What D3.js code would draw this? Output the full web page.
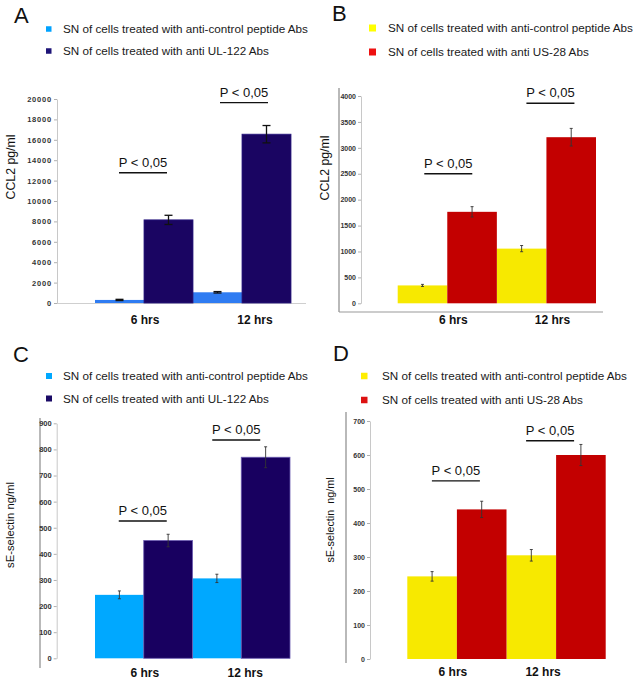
<!DOCTYPE html>
<html><head><meta charset="utf-8">
<script src="https://cdn.jsdelivr.net/npm/d3@7"></script>
<style>body{margin:0;background:#fff}svg{display:block}</style>
</head><body>
<svg id="c" width="638" height="686"></svg>
<script>
// ---------- DATA ----------
const groups = ["6 hrs", "12 hrs"];
const legendUL = ["SN of cells treated with anti-control peptide Abs", "SN of cells treated with anti UL-122 Abs"];
const legendUS = ["SN of cells treated with anti-control peptide Abs", "SN of cells treated with anti US-28 Abs"];
const pLabel = "P < 0,05";

// Panel A: CCL2 pg/ml (control vs anti UL-122)
const aControl = [300, 1050], aControlErr = [60, 70];
const aTreated = [8150, 16550], aTreatedErr = [450, 850];
const aTicks = [0, 2000, 4000, 6000, 8000, 10000, 12000, 14000, 16000, 18000, 20000];
const aPBars = [12770, 19640];

// Panel B: CCL2 pg/ml (control vs anti US-28)
const bControl = [345, 1055], bControlErr = [20, 60];
const bTreated = [1765, 3205], bTreatedErr = [100, 170];
const bTicks = [0, 500, 1000, 1500, 2000, 2500, 3000, 3500, 4000];
const bPBars = [2500, 3860];

// Panel C: sE-selectin ng/ml (control vs anti UL-122)
const cControl = [243, 306], cControlErr = [15, 16];
const cTreated = [451, 770], cTreatedErr = [24, 40];
const cTicks = [0, 100, 200, 300, 400, 500, 600, 700, 800, 900];
const cPBars = [526, 836];

// Panel D: sE-selectin ng/ml (control vs anti US-28)
const dControl = [243, 305], dControlErr = [14, 17];
const dTreated = [440, 600], dTreatedErr = [24, 31];
const dTicks = [0, 100, 200, 300, 400, 500, 600, 700];
const dPBars = [524, 642];

// ---------- DRAW ----------
const svg = d3.select("#c");
const FONT = "Arial, 'Liberation Sans', sans-serif";

function panel(cfg) {
  const g = svg.append("g");
  const y = d3.scaleLinear().domain([0, cfg.ymax]).range([cfg.y0, cfg.y1]);
  const x = d3.scaleBand().domain(groups).range(cfg.xr).padding(0);
  const xs = d3.scaleBand().domain([0, 1]).range([0, x.bandwidth()]).padding(0);

  g.append("text").attr("x", cfg.letterX).attr("y", cfg.letterY)
    .attr("font-family", FONT).attr("font-size", 22).attr("fill", "#111").text(cfg.letter);

  cfg.legend.forEach((t, i) => {
    g.append("rect").attr("x", cfg.legX).attr("y", cfg.legY[i] - cfg.legSq / 2)
      .attr("width", cfg.legSq).attr("height", cfg.legSq).attr("fill", cfg.legColors[i]);
    g.append("text").attr("x", cfg.legTX).attr("y", cfg.legY[i] + 4)
      .attr("font-family", FONT).attr("font-size", 11.7).attr("fill", "#1a1a1a").text(t);
  });

  if (cfg.frameX !== undefined) {
    g.append("line").attr("x1", cfg.frameX).attr("x2", cfg.frameX)
      .attr("y1", cfg.frameTop).attr("y2", cfg.frameBottom)
      .attr("stroke", "#8a8a8a").attr("stroke-width", 1.2);
  }
  if (cfg.baseY !== undefined) {
    g.append("line").attr("x1", cfg.baseX1).attr("x2", cfg.baseX2)
      .attr("y1", cfg.baseY).attr("y2", cfg.baseY)
      .attr("stroke", cfg.baseColor).attr("stroke-width", 1.2);
  }

  const ax = g.append("g").attr("transform", `translate(${cfg.axisX},0)`)
    .call(d3.axisLeft(y).tickValues(cfg.ticks).tickSize(3).tickSizeOuter(0).tickPadding(2).tickFormat(d3.format("d")));
  ax.select(".domain").attr("stroke", "#c8c8c8").attr("stroke-width", 1);
  ax.selectAll(".tick line").attr("stroke", "#b0b0b0");
  ax.selectAll(".tick text").attr("font-family", cfg.tickFont).attr("font-weight", "bold")
    .attr("font-size", cfg.tickSize).attr("letter-spacing", cfg.tickLS || 0).attr("fill", "#333");

  g.append("text").attr("transform", `translate(${cfg.ylabX},${cfg.ylabY}) rotate(-90)`)
    .attr("text-anchor", "middle").attr("font-family", FONT).attr("font-size", cfg.ylabSize)
    .attr("fill", "#111").attr("xml:space", "preserve").text(cfg.ylab);

  const series = [
    { v: cfg.control, e: cfg.controlErr, c: cfg.colors[0] },
    { v: cfg.treated, e: cfg.treatedErr, c: cfg.colors[1] }
  ];
  series.forEach((s, si) => {
    groups.forEach((gr, gi) => {
      const bx = x(gr) + xs(si);
      g.append("rect").attr("x", bx).attr("y", y(s.v[gi]))
        .attr("width", xs.bandwidth()).attr("height", y(0) - y(s.v[gi]))
        .attr("fill", s.c).attr("stroke", cfg.barStroke ? cfg.barStroke[si] : "none").attr("stroke-width", 0.8);
    });
  });
  series.forEach((s, si) => {
    groups.forEach((gr, gi) => {
      const cx = x(gr) + xs(si) + xs.bandwidth() / 2;
      const hi = y(s.v[gi] + s.e[gi]), lo = y(s.v[gi] - s.e[gi]);
      g.append("line").attr("x1", cx).attr("x2", cx).attr("y1", hi).attr("y2", lo)
        .attr("stroke", cfg.errColor).attr("stroke-width", cfg.errW);
      [hi, lo].forEach(yy => g.append("line").attr("x1", cx - cfg.cap).attr("x2", cx + cfg.cap)
        .attr("y1", yy).attr("y2", yy).attr("stroke", cfg.errColor).attr("stroke-width", cfg.errW));
    });
  });

  groups.forEach((gr, gi) => {
    const cx = x(gr) + x.bandwidth() / 2 + cfg.pOff[gi];
    const yy = y(cfg.pbars[gi]);
    g.append("line").attr("x1", cx - 24).attr("x2", cx + 24).attr("y1", yy).attr("y2", yy)
      .attr("stroke", "#111").attr("stroke-width", 1.4);
    g.append("text").attr("x", cx).attr("y", yy - 6).attr("text-anchor", "middle")
      .attr("font-family", FONT).attr("font-size", 13).attr("fill", "#111").text(pLabel);
  });

  groups.forEach((gr, gi) => {
    g.append("text").attr("x", x(gr) + x.bandwidth() / 2 + cfg.xlabOff[gi]).attr("y", cfg.xlabY)
      .attr("text-anchor", "middle").attr("font-family", FONT).attr("font-weight", "bold")
      .attr("font-size", 12).attr("fill", "#111").text(gr);
  });
}

const NARROW = "'Liberation Sans Narrow', 'Arial Narrow', Arial, sans-serif";

panel({
  letter: "A", letterX: 14, letterY: 23,
  legend: legendUL, legColors: ["#00a2ff", "#1e1478"], legX: 46, legY: [29, 51], legSq: 5.5, legTX: 63,
  ymax: 20000, y0: 303, y1: 99, xr: [95, 291], axisX: 57, ticks: aTicks,
  tickFont: FONT, tickSize: 7.5, tickLS: 0.8,
  baseY: 303.5, baseX1: 57, baseX2: 306, baseColor: "#cfcfcf",
  ylab: "CCL2 pg/ml", ylabX: 15, ylabY: 167, ylabSize: 12.3,
  control: aControl, controlErr: aControlErr, treated: aTreated, treatedErr: aTreatedErr,
  colors: ["#2f7cf2", "#1a0562"], barStroke: ["none", "#2a1a80"],
  errColor: "#111", errW: 1.3, cap: 4,
  pbars: aPBars, pOff: [-1, 2], xlabOff: [1, 13], xlabY: 324
});

panel({
  letter: "B", letterX: 332, letterY: 21,
  legend: legendUS, legColors: ["#ffff00", "#ee1111"], legX: 369, legY: [28, 52], legSq: 7, legTX: 388,
  ymax: 4000, y0: 303.3, y1: 96, xr: [397.7, 596], axisX: 361, ticks: bTicks,
  tickFont: NARROW, tickSize: 7,
  frameX: 339, frameTop: 88, frameBottom: 312,
  baseY: 312, baseX1: 339, baseX2: 603, baseColor: "#9a9a9a",
  ylab: "CCL2 pg/ml", ylabX: 329, ylabY: 168, ylabSize: 12.3,
  control: bControl, controlErr: bControlErr, treated: bTreated, treatedErr: bTreatedErr,
  colors: ["#f7e900", "#c30000"],
  errColor: "#333", errW: 0.9, cap: 1.5,
  pbars: bPBars, pOff: [1, 4], xlabOff: [6, 6], xlabY: 324
});

panel({
  letter: "C", letterX: 13, letterY: 362,
  legend: legendUL, legColors: ["#00a8ff", "#1a0a66"], legX: 46, legY: [376, 398.5], legSq: 6, legTX: 63,
  ymax: 900, y0: 658.3, y1: 423.3, xr: [95, 290], axisX: 56.7, ticks: cTicks,
  tickFont: NARROW, tickSize: 7.5,
  frameX: 40, frameTop: 418, frameBottom: 668,
  ylab: "sE-selectin ng/ml", ylabX: 14, ylabY: 525, ylabSize: 11.3,
  control: cControl, controlErr: cControlErr, treated: cTreated, treatedErr: cTreatedErr,
  colors: ["#00a8ff", "#180060"], barStroke: ["none", "#6a5ab0"],
  errColor: "#333", errW: 0.9, cap: 1.5,
  pbars: cPBars, pOff: [-1, -5], xlabOff: [1, 4], xlabY: 677
});

panel({
  letter: "D", letterX: 333, letterY: 361,
  legend: legendUS, legColors: ["#ffee00", "#dd1111"], legX: 361, legY: [376, 400], legSq: 6.5, legTX: 382,
  ymax: 700, y0: 659, y1: 421, xr: [407.3, 605.7], axisX: 370, ticks: dTicks,
  tickFont: NARROW, tickSize: 7,
  frameX: 346, frameTop: 412, frameBottom: 663,
  ylab: "sE-selectin  ng/ml", ylabX: 334, ylabY: 520, ylabSize: 10.8,
  control: dControl, controlErr: dControlErr, treated: dTreated, treatedErr: dTreatedErr,
  colors: ["#f7e900", "#c30000"],
  errColor: "#333", errW: 0.9, cap: 1.5,
  pbars: dPBars, pOff: [-1, -6], xlabOff: [-4, -13], xlabY: 676
});
</script>
</body></html>
